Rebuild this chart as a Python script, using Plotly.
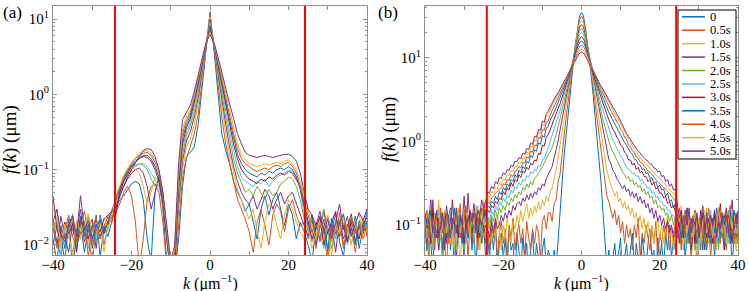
import plotly.graph_objects as go

# ---------------- data ----------------
labels = ["0", "0.5s", "1.0s", "1.5s", "2.0s", "2.5s", "3.0s", "3.5s", "4.0s", "4.5s", "5.0s"]
k_a = list(range(-40, 41))                 # panel (a) wave numbers, um^-1
k_b = [i / 2 for i in range(-80, 81)]      # panel (b) wave numbers, um^-1
cutoff_a = [-24.2, 24.2]
cutoff_b = [-24.2, 24.2]

# panel (a): f(k) in um, k = -40..40
fa_0 = [0.012, 0.006, 0.018, 0.009, 0.022, 0.005, 0.014, 0.02, 0.008, 0.016, 0.011, 0.025, 0.007, 0.017, 0.013, 0.021,
        0.03, 0.04, 0.045, 0.055, 0.065, 0.07, 0.065, 0.04, 0.012, 0.006, 0.05, 0.08, 0.03, 0.006, 0.004,
        0.004, 0.012, 0.06, 0.15, 0.17, 0.2, 0.4, 1.26, 4.0,
        12.5,
        4.0, 1.2, 0.3, 0.18, 0.12, 0.07, 0.05, 0.04, 0.028,
        0.035, 0.02, 0.012, 0.03, 0.045, 0.025, 0.04, 0.05, 0.03, 0.018, 0.035, 0.025, 0.012, 0.02,
        0.015, 0.01, 0.006, 0.018, 0.012, 0.022, 0.008, 0.016, 0.026, 0.011, 0.007, 0.019, 0.014, 0.024, 0.009, 0.017, 0.021]
fa_1 = [0.02, 0.011, 0.007, 0.016, 0.025, 0.013, 0.009, 0.019, 0.028, 0.012, 0.006, 0.015, 0.022, 0.01, 0.018, 0.024,
        0.028, 0.035, 0.05, 0.06, 0.045, 0.02, 0.005, 0.012, 0.04, 0.06, 0.065, 0.05, 0.02, 0.005, 0.003,
        0.004, 0.02, 0.08, 0.14, 0.2, 0.3, 0.55, 1.5, 4.2,
        11.5,
        4.2, 1.5, 0.5, 0.22, 0.12, 0.07, 0.04, 0.03, 0.022,
        0.015, 0.008, 0.02, 0.03, 0.018, 0.01, 0.025, 0.035, 0.028, 0.015, 0.03, 0.04, 0.025, 0.018,
        0.02, 0.012, 0.016, 0.009, 0.023, 0.014, 0.006, 0.018, 0.012, 0.027, 0.01, 0.015, 0.02, 0.008, 0.016, 0.022, 0.013]
fa_2 = [0.015, 0.022, 0.009, 0.013, 0.018, 0.007, 0.021, 0.012, 0.016, 0.024, 0.01, 0.014, 0.019, 0.008, 0.02, 0.026,
        0.035, 0.05, 0.07, 0.085, 0.095, 0.1, 0.09, 0.06, 0.035, 0.05, 0.08, 0.07, 0.035, 0.01, 0.004,
        0.005, 0.03, 0.1, 0.2, 0.26, 0.4, 0.75, 1.7, 4.3,
        10.6,
        4.3, 1.7, 0.7, 0.3, 0.16, 0.09, 0.055, 0.04, 0.03,
        0.022, 0.03, 0.015, 0.009, 0.02, 0.035, 0.03, 0.018, 0.012, 0.025, 0.04, 0.03, 0.02, 0.015,
        0.012, 0.018, 0.009, 0.014, 0.022, 0.011, 0.017, 0.007, 0.02, 0.013, 0.025, 0.016, 0.01, 0.019, 0.012, 0.023, 0.015]
fa_3 = [0.018, 0.01, 0.024, 0.013, 0.008, 0.02, 0.015, 0.03, 0.011, 0.017, 0.022, 0.009, 0.025, 0.014, 0.02, 0.028,
        0.032, 0.045, 0.06, 0.075, 0.09, 0.1, 0.105, 0.09, 0.06, 0.03, 0.05, 0.08, 0.05, 0.015, 0.004,
        0.006, 0.035, 0.13, 0.24, 0.32, 0.5, 0.9, 1.9, 4.4,
        9.8,
        4.4, 1.9, 0.85, 0.4, 0.2, 0.11, 0.07, 0.05, 0.04,
        0.035, 0.045, 0.03, 0.04, 0.055, 0.045, 0.03, 0.04, 0.05, 0.035, 0.045, 0.05, 0.035, 0.025,
        0.018, 0.013, 0.022, 0.01, 0.016, 0.028, 0.014, 0.019, 0.008, 0.021, 0.012, 0.017, 0.026, 0.011, 0.018, 0.014, 0.02]
fa_4 = [0.03, 0.028, 0.012, 0.02, 0.015, 0.022, 0.009, 0.018, 0.013, 0.024, 0.016, 0.011, 0.02, 0.017, 0.025, 0.022,
        0.035, 0.05, 0.068, 0.085, 0.1, 0.11, 0.12, 0.115, 0.1, 0.075, 0.06, 0.07, 0.045, 0.015, 0.005,
        0.006, 0.04, 0.16, 0.28, 0.38, 0.6, 1.05, 2.1, 4.5,
        9.2,
        4.5, 2.1, 1.0, 0.5, 0.26, 0.14, 0.09, 0.065, 0.05,
        0.055, 0.045, 0.06, 0.05, 0.04, 0.055, 0.045, 0.05, 0.065, 0.07, 0.08, 0.075, 0.06, 0.04,
        0.022, 0.015, 0.025, 0.012, 0.018, 0.03, 0.016, 0.009, 0.021, 0.014, 0.019, 0.011, 0.024, 0.017, 0.013, 0.02, 0.016]
fa_5 = [0.014, 0.02, 0.007, 0.017, 0.012, 0.026, 0.01, 0.015, 0.021, 0.009, 0.018, 0.013, 0.023, 0.011, 0.016, 0.027,
        0.038, 0.055, 0.075, 0.095, 0.11, 0.115, 0.12, 0.12, 0.11, 0.09, 0.075, 0.06, 0.035, 0.01, 0.004,
        0.006, 0.05, 0.19, 0.32, 0.43, 0.7, 1.2, 2.3, 4.6,
        8.6,
        4.6, 2.3, 1.15, 0.6, 0.32, 0.18, 0.11, 0.08, 0.07,
        0.065, 0.06, 0.07, 0.065, 0.075, 0.06, 0.07, 0.08, 0.085, 0.09, 0.1, 0.095, 0.08, 0.055,
        0.025, 0.016, 0.011, 0.02, 0.014, 0.009, 0.018, 0.023, 0.012, 0.016, 0.02, 0.01, 0.015, 0.022, 0.013, 0.018, 0.025]
fa_6 = [0.045, 0.016, 0.011, 0.02, 0.014, 0.019, 0.008, 0.023, 0.015, 0.012, 0.018, 0.021, 0.013, 0.017, 0.019, 0.024,
        0.025, 0.05, 0.07, 0.09, 0.11, 0.125, 0.14, 0.15, 0.145, 0.13, 0.1, 0.07, 0.035, 0.012, 0.004,
        0.005, 0.06, 0.22, 0.36, 0.48, 0.78, 1.35, 2.5, 4.7,
        8.0,
        4.7, 2.5, 1.3, 0.7, 0.38, 0.22, 0.14, 0.1, 0.085,
        0.075, 0.07, 0.065, 0.075, 0.07, 0.08, 0.075, 0.085, 0.09, 0.085, 0.095, 0.09, 0.075, 0.06,
        0.035, 0.02, 0.012, 0.017, 0.024, 0.01, 0.015, 0.02, 0.028, 0.013, 0.018, 0.011, 0.021, 0.016, 0.012, 0.019, 0.023]
fa_7 = [0.01, 0.018, 0.014, 0.006, 0.02, 0.016, 0.011, 0.024, 0.013, 0.019, 0.009, 0.017, 0.022, 0.015, 0.021, 0.03,
        0.04, 0.055, 0.075, 0.095, 0.115, 0.13, 0.145, 0.155, 0.155, 0.14, 0.11, 0.08, 0.04, 0.013, 0.005,
        0.007, 0.07, 0.26, 0.4, 0.53, 0.85, 1.45, 2.7, 4.7,
        7.5,
        4.7, 2.7, 1.45, 0.8, 0.45, 0.26, 0.16, 0.12, 0.1,
        0.09, 0.085, 0.08, 0.09, 0.085, 0.095, 0.09, 0.1, 0.105, 0.1, 0.11, 0.1, 0.08, 0.055,
        0.03, 0.018, 0.025, 0.012, 0.02, 0.016, 0.009, 0.022, 0.014, 0.019, 0.026, 0.012, 0.017, 0.01, 0.021, 0.015, 0.028]
fa_8 = [0.022, 0.009, 0.016, 0.012, 0.019, 0.025, 0.011, 0.014, 0.02, 0.007, 0.017, 0.023, 0.012, 0.018, 0.024, 0.02,
        0.042, 0.06, 0.08, 0.1, 0.12, 0.14, 0.155, 0.165, 0.17, 0.155, 0.125, 0.09, 0.045, 0.015, 0.005,
        0.008, 0.08, 0.3, 0.45, 0.58, 0.92, 1.55, 2.8, 4.8,
        7.0,
        4.8, 2.8, 1.6, 0.9, 0.52, 0.3, 0.19, 0.14, 0.12,
        0.11, 0.1, 0.095, 0.1, 0.105, 0.1, 0.11, 0.115, 0.11, 0.12, 0.125, 0.11, 0.09, 0.06,
        0.04, 0.025, 0.015, 0.02, 0.011, 0.018, 0.024, 0.013, 0.016, 0.021, 0.009, 0.017, 0.023, 0.014, 0.019, 0.012, 0.018]
fa_9 = [0.016, 0.024, 0.01, 0.019, 0.013, 0.008, 0.021, 0.015, 0.018, 0.026, 0.012, 0.02, 0.014, 0.023, 0.017, 0.025,
        0.045, 0.062, 0.083, 0.105, 0.125, 0.145, 0.165, 0.175, 0.18, 0.165, 0.135, 0.095, 0.05, 0.016, 0.005,
        0.009, 0.09, 0.35, 0.5, 0.62, 0.98, 1.7, 2.9, 4.8,
        6.6,
        4.8, 3.0, 1.75, 1.0, 0.6, 0.36, 0.22, 0.16, 0.135,
        0.12, 0.115, 0.11, 0.115, 0.12, 0.115, 0.12, 0.125, 0.12, 0.13, 0.135, 0.12, 0.1, 0.07,
        0.045, 0.028, 0.018, 0.012, 0.02, 0.015, 0.025, 0.011, 0.019, 0.014, 0.022, 0.017, 0.01, 0.02, 0.026, 0.013, 0.016]
fa_10 = [0.02, 0.03, 0.014, 0.011, 0.018, 0.024, 0.013, 0.045, 0.016, 0.021, 0.012, 0.019, 0.015, 0.022, 0.025, 0.028,
         0.03, 0.045, 0.06, 0.08, 0.1, 0.125, 0.15, 0.18, 0.19, 0.185, 0.15, 0.1, 0.05, 0.018, 0.006,
         0.01, 0.12, 0.46, 0.58, 0.72, 1.1, 1.85, 3.1, 4.9,
         6.2,
         4.9, 3.2, 1.95, 1.15, 0.75, 0.48, 0.3, 0.22, 0.17,
         0.155, 0.15, 0.145, 0.15, 0.155, 0.15, 0.145, 0.15, 0.155, 0.16, 0.16, 0.15, 0.13, 0.09,
         0.05, 0.03, 0.025, 0.018, 0.028, 0.015, 0.022, 0.012, 0.02, 0.035, 0.016, 0.024, 0.013, 0.019, 0.027, 0.021, 0.03]

# panel (b): f(k) in um, k = -40..40 step 0.5
fb_0 = [0.09, 0.05, 0.12, 0.07, 0.03, 0.1, 0.14, 0.06,
        0.08, 0.04, 0.11, 0.07, 0.13, 0.05, 0.09, 0.03,
        0.1, 0.06, 0.15, 0.08, 0.04, 0.11, 0.07, 0.12,
        0.05, 0.09, 0.03, 0.08, 0.13, 0.06, 0.1, 0.04,
        0.07, 0.04, 0.09, 0.05, 0.11, 0.03, 0.06, 0.08,
        0.04, 0.07, 0.03, 0.09, 0.05, 0.06, 0.02, 0.08,
        0.05, 0.03, 0.07, 0.04, 0.06, 0.02, 0.05, 0.08,
        0.03, 0.06, 0.04, 0.02, 0.05, 0.07, 0.03, 0.05,
        0.04, 0.02, 0.05, 0.03, 0.063, 0.14, 0.32, 0.63,
        1.1, 2.0, 3.5,
        6.0, 9.5, 15, 23, 31.6, 35, 31.6, 23, 15, 9.5, 6.0,
        3.5, 2.0, 1.1,
        0.63, 0.32, 0.14, 0.063, 0.03, 0.05, 0.02, 0.04,
        0.06, 0.03, 0.05, 0.07, 0.02, 0.04, 0.06, 0.03,
        0.05, 0.08, 0.03, 0.06, 0.04, 0.02, 0.07, 0.05,
        0.03, 0.06, 0.09, 0.04, 0.05, 0.02, 0.07, 0.04,
        0.06, 0.03, 0.08, 0.05, 0.1, 0.04, 0.07, 0.05,
        0.09, 0.13, 0.06, 0.1, 0.04, 0.08, 0.12, 0.05,
        0.07, 0.11, 0.03, 0.09, 0.06, 0.14, 0.08, 0.05,
        0.1, 0.07, 0.12, 0.04, 0.09, 0.06, 0.11, 0.08,
        0.05, 0.13, 0.07, 0.1, 0.03, 0.08, 0.12, 0.06]
fb_1 = [0.12, 0.07, 0.04, 0.1, 0.16, 0.08, 0.11, 0.05,
        0.09, 0.14, 0.06, 0.03, 0.1, 0.13, 0.07, 0.09,
        0.05, 0.11, 0.18, 0.08, 0.06, 0.12, 0.04, 0.1,
        0.07, 0.13, 0.09, 0.05, 0.11, 0.08, 0.15, 0.06,
        0.09, 0.05, 0.12, 0.07, 0.1, 0.04, 0.08, 0.11,
        0.06, 0.09, 0.04, 0.1, 0.07, 0.12, 0.05, 0.08,
        0.1, 0.06, 0.09, 0.04, 0.11, 0.07, 0.05, 0.09,
        0.06, 0.1, 0.08, 0.04, 0.11, 0.13, 0.09, 0.14,
        0.14, 0.11, 0.18, 0.2, 0.32, 0.4, 0.7, 1.1,
        1.8, 2.8, 4.5,
        6.5, 10, 15, 21.5, 28.5, 31.6, 28.5, 21.5, 15, 10, 6.5,
        4.5, 2.8, 1.8,
        1.1, 0.7, 0.45, 0.32, 0.22, 0.19, 0.15, 0.12,
        0.15, 0.1, 0.13, 0.08, 0.11, 0.06, 0.1, 0.07,
        0.09, 0.05, 0.1, 0.07, 0.12, 0.04, 0.08, 0.06,
        0.1, 0.07, 0.05, 0.09, 0.06, 0.11, 0.04, 0.08,
        0.06, 0.1, 0.07, 0.12, 0.05, 0.09, 0.08, 0.11,
        0.07, 0.1, 0.05, 0.13, 0.08, 0.06, 0.11, 0.04,
        0.09, 0.15, 0.07, 0.1, 0.05, 0.12, 0.08, 0.06,
        0.11, 0.04, 0.09, 0.14, 0.07, 0.1, 0.06, 0.12,
        0.08, 0.05, 0.1, 0.07, 0.13, 0.09, 0.06, 0.11]
fb_2 = [0.06, 0.1, 0.14, 0.08, 0.05, 0.12, 0.09, 0.17,
        0.07, 0.04, 0.11, 0.08, 0.13, 0.06, 0.1, 0.05,
        0.12, 0.08, 0.03, 0.1, 0.15, 0.07, 0.09, 0.12,
        0.06, 0.11, 0.08, 0.14, 0.05, 0.1, 0.07, 0.13,
        0.08, 0.12, 0.06, 0.1, 0.07, 0.13, 0.09, 0.05,
        0.1, 0.07, 0.12, 0.08, 0.06, 0.11, 0.09, 0.13,
        0.1, 0.15, 0.11, 0.14, 0.18, 0.12, 0.16, 0.13,
        0.17, 0.14, 0.19, 0.15, 0.2, 0.17, 0.22, 0.19,
        0.25, 0.28, 0.35, 0.45, 0.63, 0.9, 1.26, 1.8,
        2.5, 3.5, 5.0,
        7, 10, 14.5, 20, 26, 28, 26, 20, 14.5, 10, 7,
        5.0, 3.5, 2.5,
        1.8, 1.26, 0.9, 0.63, 0.45, 0.36, 0.3, 0.26,
        0.22, 0.25, 0.19, 0.21, 0.16, 0.19, 0.15, 0.17,
        0.13, 0.16, 0.12, 0.14, 0.1, 0.13, 0.09, 0.12,
        0.08, 0.11, 0.07, 0.1, 0.06, 0.09, 0.12, 0.07,
        0.1, 0.06, 0.09, 0.13, 0.07, 0.1, 0.05, 0.09,
        0.12, 0.07, 0.1, 0.05, 0.14, 0.09, 0.06, 0.11,
        0.08, 0.13, 0.04, 0.1, 0.07, 0.12, 0.09, 0.16,
        0.06, 0.1, 0.08, 0.13, 0.05, 0.11, 0.07, 0.09,
        0.14, 0.06, 0.1, 0.12, 0.07, 0.09, 0.05, 0.11]
fb_3 = [0.1, 0.06, 0.13, 0.09, 0.2, 0.07, 0.11, 0.05,
        0.14, 0.08, 0.1, 0.06, 0.12, 0.16, 0.07, 0.1,
        0.04, 0.09, 0.13, 0.07, 0.11, 0.08, 0.24, 0.1,
        0.06, 0.12, 0.09, 0.14, 0.07, 0.11, 0.08, 0.1,
        0.09, 0.07, 0.11, 0.08, 0.12, 0.09, 0.1, 0.13,
        0.11, 0.14, 0.12, 0.15, 0.13, 0.17, 0.15, 0.18,
        0.19, 0.17, 0.21, 0.19, 0.23, 0.2, 0.24, 0.21,
        0.25, 0.23, 0.28, 0.26, 0.31, 0.29, 0.36, 0.4,
        0.45, 0.5, 0.63, 0.78, 1.0, 1.35, 1.8, 2.4,
        3.16, 4.2, 5.5,
        7.4, 10, 14, 18.6, 23.5, 25, 23.5, 18.6, 14, 10, 7.4,
        5.5, 4.2, 3.16,
        2.4, 1.8, 1.35, 1.0, 0.8, 0.6, 0.55, 0.45,
        0.42, 0.36, 0.33, 0.3, 0.27, 0.3, 0.25, 0.27,
        0.22, 0.25, 0.21, 0.24, 0.19, 0.22, 0.18, 0.2,
        0.16, 0.18, 0.14, 0.16, 0.12, 0.15, 0.11, 0.13,
        0.1, 0.12, 0.09, 0.11, 0.08, 0.1, 0.07, 0.09,
        0.1, 0.06, 0.12, 0.08, 0.15, 0.07, 0.11, 0.05,
        0.09, 0.13, 0.06, 0.1, 0.08, 0.14, 0.05, 0.11,
        0.07, 0.12, 0.09, 0.06, 0.1, 0.16, 0.08, 0.12,
        0.05, 0.09, 0.13, 0.07, 0.1, 0.06, 0.14, 0.09]
fb_4 = [0.08, 0.12, 0.05, 0.1, 0.07, 0.14, 0.09, 0.06,
        0.11, 0.04, 0.09, 0.13, 0.08, 0.1, 0.06, 0.12,
        0.09, 0.15, 0.07, 0.11, 0.05, 0.1, 0.13, 0.08,
        0.1, 0.06, 0.14, 0.09, 0.12, 0.07, 0.16, 0.11,
        0.12, 0.09, 0.13, 0.11, 0.15, 0.12, 0.16, 0.14,
        0.17, 0.15, 0.19, 0.17, 0.21, 0.19, 0.23, 0.21,
        0.25, 0.23, 0.28, 0.26, 0.31, 0.28, 0.33, 0.3,
        0.36, 0.38, 0.42, 0.45, 0.5, 0.55, 0.62, 0.68,
        0.76, 0.85, 1.0, 1.2, 1.5, 1.8, 2.3, 2.9,
        3.7, 4.7, 5.9,
        7.6, 10, 13.5, 17.4, 21, 22.4, 21, 17.4, 13.5, 10, 7.6,
        5.9, 4.7, 3.7,
        2.9, 2.3, 1.8, 1.5, 1.2, 1.0, 0.85, 0.76,
        0.66, 0.6, 0.52, 0.48, 0.43, 0.4, 0.36, 0.38,
        0.33, 0.35, 0.3, 0.32, 0.28, 0.3, 0.25, 0.27,
        0.23, 0.25, 0.21, 0.22, 0.18, 0.2, 0.16, 0.17,
        0.15, 0.16, 0.13, 0.14, 0.11, 0.13, 0.1, 0.12,
        0.09, 0.12, 0.07, 0.1, 0.14, 0.06, 0.11, 0.08,
        0.13, 0.05, 0.1, 0.08, 0.12, 0.09, 0.06, 0.14,
        0.08, 0.11, 0.07, 0.1, 0.13, 0.05, 0.09, 0.12,
        0.07, 0.1, 0.15, 0.08, 0.11, 0.06, 0.1, 0.13]
fb_5 = [0.11, 0.07, 0.14, 0.09, 0.05, 0.12, 0.08, 0.16,
        0.1, 0.13, 0.06, 0.11, 0.09, 0.15, 0.07, 0.12,
        0.05, 0.1, 0.14, 0.08, 0.12, 0.06, 0.11, 0.09,
        0.13, 0.07, 0.1, 0.17, 0.08, 0.12, 0.1, 0.14,
        0.13, 0.11, 0.15, 0.13, 0.17, 0.15, 0.19, 0.17,
        0.21, 0.19, 0.23, 0.21, 0.26, 0.24, 0.29, 0.27,
        0.32, 0.3, 0.35, 0.33, 0.39, 0.37, 0.43, 0.41,
        0.46, 0.44, 0.52, 0.5, 0.6, 0.62, 0.75, 0.85,
        1.0, 1.2, 1.4, 1.7, 2.0, 2.3, 2.8, 3.4,
        4.2, 5.1, 6.3,
        7.8, 9.8, 12.6, 15.8, 19, 20, 19, 15.8, 12.6, 9.8, 7.8,
        6.3, 5.1, 4.2,
        3.4, 2.8, 2.3, 2.0, 1.7, 1.4, 1.2, 1.05,
        0.95, 0.82, 0.76, 0.66, 0.62, 0.54, 0.5, 0.46,
        0.45, 0.41, 0.42, 0.38, 0.39, 0.34, 0.35, 0.31,
        0.3, 0.27, 0.28, 0.24, 0.25, 0.21, 0.22, 0.19,
        0.19, 0.17, 0.17, 0.15, 0.15, 0.13, 0.13, 0.11,
        0.1, 0.13, 0.08, 0.11, 0.06, 0.1, 0.14, 0.08,
        0.12, 0.07, 0.1, 0.05, 0.11, 0.09, 0.13, 0.07,
        0.1, 0.15, 0.08, 0.12, 0.06, 0.1, 0.08, 0.13,
        0.09, 0.11, 0.06, 0.1, 0.14, 0.08, 0.12, 0.1]
fb_6 = [0.13, 0.08, 0.11, 0.06, 0.15, 0.1, 0.07, 0.12,
        0.09, 0.14, 0.05, 0.1, 0.12, 0.08, 0.2, 0.09,
        0.11, 0.07, 0.13, 0.1, 0.06, 0.12, 0.09, 0.15,
        0.08, 0.11, 0.14, 0.07, 0.12, 0.1, 0.16, 0.13,
        0.15, 0.14, 0.17, 0.16, 0.19, 0.18, 0.21, 0.2,
        0.25, 0.23, 0.28, 0.26, 0.32, 0.29, 0.35, 0.33,
        0.4, 0.37, 0.44, 0.42, 0.49, 0.46, 0.55, 0.52,
        0.6, 0.58, 0.72, 0.7, 0.9, 0.88, 1.12, 1.2,
        1.4, 1.6, 1.8, 2.1, 2.45, 2.8, 3.3, 3.9,
        4.6, 5.4, 6.5,
        7.8, 9.5, 12, 14.8, 17, 17.8, 17, 14.8, 12, 9.5, 7.8,
        6.5, 5.4, 4.6,
        3.9, 3.3, 2.8, 2.45, 2.1, 1.8, 1.6, 1.4,
        1.3, 1.12, 1.05, 0.9, 0.86, 0.74, 0.7, 0.6,
        0.6, 0.52, 0.55, 0.46, 0.49, 0.42, 0.44, 0.38,
        0.38, 0.33, 0.35, 0.3, 0.32, 0.27, 0.28, 0.24,
        0.24, 0.21, 0.22, 0.18, 0.19, 0.16, 0.17, 0.14,
        0.12, 0.09, 0.14, 0.07, 0.11, 0.16, 0.08, 0.12,
        0.1, 0.06, 0.13, 0.09, 0.15, 0.08, 0.11, 0.07,
        0.12, 0.1, 0.06, 0.14, 0.09, 0.12, 0.18, 0.08,
        0.11, 0.07, 0.13, 0.1, 0.06, 0.12, 0.09, 0.15]
fb_7 = [0.07, 0.12, 0.09, 0.15, 0.06, 0.1, 0.13, 0.08,
        0.11, 0.05, 0.14, 0.1, 0.07, 0.12, 0.09, 0.16,
        0.08, 0.13, 0.1, 0.06, 0.11, 0.15, 0.07, 0.12,
        0.1, 0.14, 0.08, 0.13, 0.11, 0.16, 0.12, 0.15,
        0.17, 0.16, 0.19, 0.18, 0.22, 0.2, 0.25, 0.23,
        0.28, 0.26, 0.31, 0.29, 0.35, 0.33, 0.4, 0.37,
        0.45, 0.42, 0.5, 0.47, 0.58, 0.55, 0.68, 0.64,
        0.8, 0.76, 0.97, 0.92, 1.17, 1.12, 1.45, 1.5,
        1.8, 2.0, 2.2, 2.5, 2.9, 3.3, 3.8, 4.3,
        5.0, 5.8, 6.8,
        7.9, 9.3, 11.5, 13.5, 15.3, 15.8, 15.3, 13.5, 11.5, 9.3, 7.9,
        6.8, 5.8, 5.0,
        4.3, 3.8, 3.3, 2.9, 2.5, 2.2, 2.0, 1.8,
        1.65, 1.45, 1.35, 1.17, 1.1, 0.97, 0.9, 0.8,
        0.74, 0.7, 0.62, 0.6, 0.53, 0.52, 0.46, 0.47,
        0.41, 0.42, 0.36, 0.37, 0.31, 0.33, 0.28, 0.3,
        0.26, 0.27, 0.22, 0.24, 0.19, 0.2, 0.16, 0.18,
        0.14, 0.1, 0.07, 0.12, 0.09, 0.15, 0.06, 0.11,
        0.08, 0.13, 0.1, 0.07, 0.12, 0.05, 0.1, 0.14,
        0.09, 0.06, 0.11, 0.08, 0.16, 0.1, 0.07, 0.12,
        0.13, 0.08, 0.1, 0.06, 0.11, 0.15, 0.09, 0.07]
fb_8 = [0.1, 0.15, 0.07, 0.12, 0.09, 0.05, 0.13, 0.1,
        0.16, 0.08, 0.11, 0.14, 0.06, 0.1, 0.12, 0.08,
        0.13, 0.09, 0.07, 0.12, 0.1, 0.17, 0.08, 0.11,
        0.14, 0.09, 0.12, 0.1, 0.15, 0.13, 0.18, 0.14,
        0.19, 0.18, 0.21, 0.22, 0.24, 0.25, 0.27, 0.28,
        0.31, 0.3, 0.35, 0.34, 0.4, 0.38, 0.44, 0.45,
        0.5, 0.48, 0.56, 0.55, 0.65, 0.63, 0.77, 0.74,
        0.91, 0.88, 1.12, 1.08, 1.38, 1.35, 1.7, 1.75,
        2.1, 2.35, 2.6, 2.9, 3.3, 3.7, 4.2, 4.7,
        5.4, 6.1, 6.9,
        8.0, 9.1, 10.7, 12.3, 13.7, 14.1, 13.7, 12.3, 10.7, 9.1, 8.0,
        6.9, 6.1, 5.4,
        4.7, 4.2, 3.7, 3.3, 2.9, 2.6, 2.35, 2.1,
        1.95, 1.7, 1.6, 1.38, 1.3, 1.12, 1.05, 0.91,
        0.86, 0.77, 0.74, 0.65, 0.63, 0.56, 0.55, 0.5,
        0.48, 0.44, 0.43, 0.4, 0.37, 0.35, 0.33, 0.31,
        0.3, 0.28, 0.27, 0.25, 0.24, 0.22, 0.21, 0.19,
        0.13, 0.16, 0.09, 0.12, 0.07, 0.14, 0.1, 0.06,
        0.11, 0.15, 0.08, 0.12, 0.1, 0.07, 0.13, 0.09,
        0.16, 0.08, 0.11, 0.06, 0.12, 0.1, 0.14, 0.07,
        0.1, 0.13, 0.09, 0.17, 0.08, 0.11, 0.07, 0.12]
fb_9 = [0.12, 0.08, 0.14, 0.1, 0.06, 0.13, 0.09, 0.2,
        0.07, 0.11, 0.15, 0.08, 0.12, 0.1, 0.06, 0.13,
        0.1, 0.16, 0.08, 0.12, 0.09, 0.14, 0.11, 0.07,
        0.13, 0.1, 0.17, 0.12, 0.15, 0.11, 0.19, 0.16,
        0.22, 0.21, 0.25, 0.24, 0.28, 0.27, 0.32, 0.3,
        0.36, 0.34, 0.4, 0.39, 0.45, 0.43, 0.5, 0.49,
        0.56, 0.54, 0.63, 0.62, 0.74, 0.72, 0.88, 0.85,
        1.05, 1.02, 1.3, 1.25, 1.58, 1.55, 1.95, 2.05,
        2.4, 2.7, 2.95, 3.3, 3.6, 4.0, 4.5, 5.0,
        5.5, 6.2, 6.9,
        7.8, 8.7, 10, 11.2, 12.3, 12.6, 12.3, 11.2, 10, 8.7, 7.8,
        6.9, 6.2, 5.5,
        5.0, 4.5, 4.0, 3.6, 3.3, 2.95, 2.7, 2.4,
        2.2, 1.95, 1.8, 1.58, 1.45, 1.3, 1.2, 1.05,
        0.98, 0.88, 0.82, 0.74, 0.7, 0.63, 0.6, 0.56,
        0.54, 0.5, 0.48, 0.45, 0.42, 0.4, 0.38, 0.36,
        0.34, 0.32, 0.3, 0.28, 0.27, 0.25, 0.24, 0.22,
        0.15, 0.11, 0.17, 0.09, 0.13, 0.08, 0.12, 0.1,
        0.07, 0.14, 0.09, 0.12, 0.06, 0.11, 0.15, 0.08,
        0.1, 0.13, 0.07, 0.11, 0.09, 0.16, 0.1, 0.08,
        0.12, 0.06, 0.11, 0.14, 0.09, 0.13, 0.08, 0.1]
fb_10 = [0.14, 0.09, 0.12, 0.2, 0.08, 0.11, 0.15, 0.07,
         0.1, 0.13, 0.09, 0.17, 0.11, 0.07, 0.12, 0.1,
         0.16, 0.08, 0.13, 0.1, 0.22, 0.09, 0.12, 0.14,
         0.11, 0.18, 0.1, 0.15, 0.13, 0.2, 0.16, 0.19,
         0.25, 0.24, 0.29, 0.27, 0.33, 0.31, 0.37, 0.36,
         0.42, 0.4, 0.46, 0.45, 0.52, 0.5, 0.58, 0.57,
         0.64, 0.62, 0.72, 0.7, 0.82, 0.8, 0.95, 0.92,
         1.15, 1.12, 1.4, 1.35, 1.75, 1.7, 2.15, 2.3,
         2.6, 2.9, 3.2, 3.5, 3.8, 4.2, 4.6, 5.0,
         5.5, 6.1, 6.8,
         7.5, 8.3, 9.4, 10.5, 11.4, 11.7, 11.4, 10.5, 9.4, 8.3, 7.5,
         6.8, 6.1, 5.5,
         5.0, 4.6, 4.2, 3.8, 3.5, 3.2, 2.9, 2.6,
         2.4, 2.15, 1.95, 1.75, 1.55, 1.4, 1.25, 1.15,
         1.05, 0.95, 0.9, 0.82, 0.77, 0.72, 0.68, 0.64,
         0.6, 0.58, 0.54, 0.53, 0.48, 0.47, 0.43, 0.44,
         0.38, 0.39, 0.33, 0.35, 0.29, 0.31, 0.26, 0.27,
         0.18, 0.12, 0.15, 0.09, 0.13, 0.1, 0.16, 0.08,
         0.12, 0.1, 0.14, 0.07, 0.11, 0.17, 0.09, 0.12,
         0.08, 0.13, 0.1, 0.15, 0.07, 0.11, 0.09, 0.14,
         0.1, 0.16, 0.08, 0.12, 0.2, 0.09, 0.13, 0.11]

series_a = [fa_0, fa_1, fa_2, fa_3, fa_4, fa_5, fa_6, fa_7, fa_8, fa_9, fa_10]
series_b = [fb_0, fb_1, fb_2, fb_3, fb_4, fb_5, fb_6, fb_7, fb_8, fb_9, fb_10]
for n, s in enumerate(series_a):
    assert len(s) == len(k_a), f"a{n}: {len(s)}"
for n, s in enumerate(series_b):
    assert len(s) == len(k_b), f"b{n}: {len(s)}"

# ---------------- style ----------------
colors = ["#0072BD", "#D95319", "#EDB120", "#7E2F8E", "#77AC30", "#4DBEEE",
          "#A2142F", "#0072BD", "#D95319", "#EDB120", "#7E2F8E"]
W, H = 748, 291
GREY = "#8f8f8f"
FONT = "Liberation Serif, DejaVu Serif, serif"


def px_x(p):
    return p / W


def px_y(p):
    return 1 - p / H


fig = go.Figure()
for i in range(len(labels)):
    fig.add_trace(go.Scatter(x=k_a, y=series_a[i], mode="lines", name=labels[i],
                             line=dict(color=colors[i], width=1), showlegend=False,
                             hoverinfo="skip", xaxis="x", yaxis="y"))
for i in range(len(labels)):
    fig.add_trace(go.Scatter(x=k_b, y=series_b[i], mode="lines", name=labels[i],
                             line=dict(color=colors[i], width=1), showlegend=False,
                             hoverinfo="skip", xaxis="x2", yaxis="y2"))


def minor_vals(lo, hi):
    out = []
    for e in range(lo, hi + 1):
        for m in range(2, 10):
            out.append(m * 10 ** e)
    return out


common = dict(showline=True, linecolor=GREY, linewidth=1, mirror="ticks", ticks="inside",
              tickcolor=GREY, ticklen=4, tickwidth=1, showgrid=False, zeroline=False,
              automargin=False)
xcommon = dict(range=[-40, 40], tickmode="linear", tick0=0, dtick=20,
               tickfont=dict(size=15, family=FONT, color="black"),
               ticklabelstandoff=-4,
               minor=dict(tickmode="linear", tick0=0, dtick=10, ticks="inside", ticklen=4,
                          tickcolor=GREY, showgrid=False),
               **common)
ytext = {0.01: "10<sup>\u22122</sup>", 0.1: "10<sup>\u22121</sup>", 1: "10<sup>0</sup>", 10: "10<sup>1</sup>"}

fig.update_layout(
    width=W, height=H, margin=dict(l=0, r=0, t=0, b=0, pad=0, autoexpand=False),
    paper_bgcolor="white", plot_bgcolor="white",
    font=dict(family=FONT, size=15, color="black"),
    showlegend=False, hovermode=False, dragmode=False,
    xaxis=dict(domain=[px_x(53), px_x(367)], anchor="y", **xcommon),
    xaxis2=dict(domain=[px_x(425), px_x(738)], anchor="y2", **xcommon),
    yaxis=dict(domain=[px_y(255), px_y(6)], anchor="x", type="log", range=[-2.133, 1.173],
               tickmode="array", tickvals=list(ytext.keys()), ticktext=list(ytext.values()),
               tickfont=dict(size=15, family=FONT, color="black"),
               minor=dict(tickmode="array", tickvals=minor_vals(-3, 1), ticks="inside",
                          ticklen=2, tickcolor=GREY, showgrid=False),
               **common),
    yaxis2=dict(domain=[px_y(255), px_y(6)], anchor="x2", type="log", range=[-1.36, 1.62],
                tickmode="array", tickvals=[0.1, 1, 10],
                ticktext=[ytext[0.1], ytext[1], ytext[10]],
                tickfont=dict(size=15, family=FONT, color="black"),
                minor=dict(tickmode="array", tickvals=minor_vals(-2, 1), ticks="inside",
                           ticklen=2, tickcolor=GREY, showgrid=False),
                **common),
)

# red cutoff lines
for xr, yr, c in (("x", "y", cutoff_a), ("x2", "y2", cutoff_b)):
    for v in c:
        fig.add_shape(type="line", xref=xr, yref=yr + " domain",
                      x0=v, x1=v, y0=0, y1=1, line=dict(color="#ff0000", width=2), layer="above")

# legend (box, line samples, labels) in panel (b)
LEG_L, LEG_R, LEG_T, LEG_B = 678, 736, 10, 159
ROW0, ROWH = 16.8, 13.43
fig.add_shape(type="rect", xref="paper", yref="paper",
              x0=px_x(LEG_L), x1=px_x(LEG_R), y0=px_y(LEG_B), y1=px_y(LEG_T),
              line=dict(color="black", width=1), fillcolor="white", layer="above")
for i, lab in enumerate(labels):
    yc = ROW0 + ROWH * i
    fig.add_shape(type="line", xref="paper", yref="paper",
                  x0=px_x(682), x1=px_x(705), y0=px_y(yc), y1=px_y(yc),
                  line=dict(color=colors[i], width=1.5), layer="above")
    fig.add_annotation(text=lab, x=px_x(708), y=px_y(yc), xref="paper", yref="paper",
                       xanchor="left", yanchor="middle", showarrow=False,
                       font=dict(size=12.5, family=FONT, color="black"))

# titles and panel labels
ann = [
    dict(text="<i>f</i>(<i>k</i>) (\u03bcm)", x=px_x(10), y=px_y(140), textangle=-90, size=19),
    dict(text="<i>f</i>(<i>k</i>) (\u03bcm)", x=px_x(389), y=px_y(130), textangle=-90, size=18),
    dict(text="<i>k</i> (\u03bcm<sup>\u22121</sup>)", x=px_x(210), y=px_y(282), textangle=0, size=16),
    dict(text="<i>k</i> (\u03bcm<sup>\u22121</sup>)", x=px_x(581), y=px_y(282), textangle=0, size=16),
]
for a in ann:
    fig.add_annotation(text=a["text"], x=a["x"], y=a["y"], xref="paper", yref="paper",
                       xanchor="center", yanchor="middle", textangle=a["textangle"],
                       showarrow=False, font=dict(size=a["size"], family=FONT, color="black"))
fig.add_annotation(text="(a)", x=px_x(1), y=px_y(13), xref="paper", yref="paper",
                   xanchor="left", yanchor="middle", showarrow=False,
                   font=dict(size=17, family=FONT, color="black"))
fig.add_annotation(text="(b)", x=px_x(376), y=px_y(13), xref="paper", yref="paper",
                   xanchor="left", yanchor="middle", showarrow=False,
                   font=dict(size=17, family=FONT, color="black"))

fig.write_html("out.html", config={"displayModeBar": False, "staticPlot": True},
               post_script="document.body.style.margin='0px';document.body.style.padding='0px';")
